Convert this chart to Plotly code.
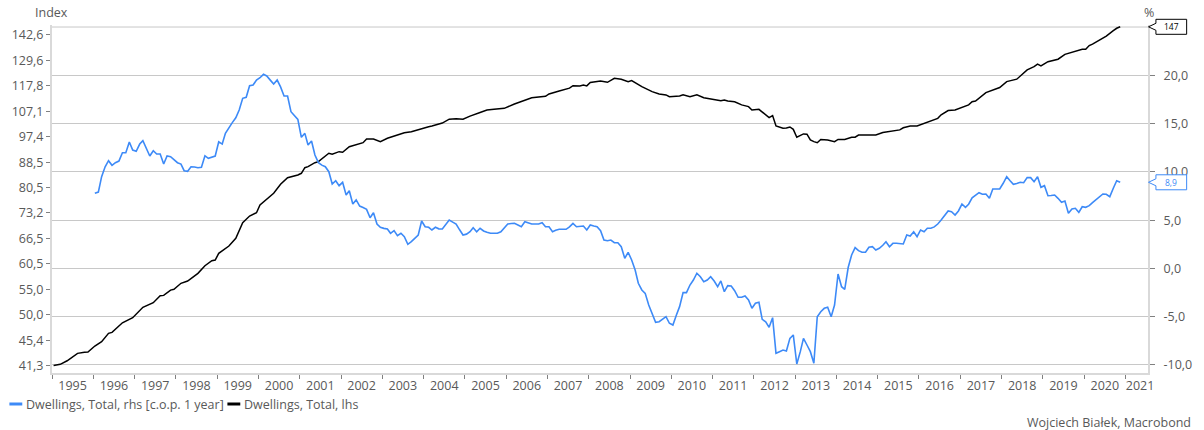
import math
import pandas as pd
import plotly.graph_objects as go

# ---------------- data ----------------
# Dwellings, Total (index, left log axis)
index_dates = [
    "1995-01", "1995-03", "1995-05", "1995-08", "1995-10", "1995-11", "1996-01", "1996-03", "1996-05", "1996-06",
    "1996-09", "1996-12", "1997-03", "1997-06", "1997-08", "1997-09", "1997-11", "1997-12", "1998-02", "1998-04",
    "1998-07", "1998-09", "1998-11", "1998-12", "1999-01", "1999-04", "1999-06", "1999-08", "1999-10", "1999-12",
    "2000-01", "2000-03", "2000-05", "2000-07", "2000-09", "2000-12", "2001-01", "2001-02", "2001-03", "2001-05",
    "2001-06", "2001-09", "2001-10", "2001-12", "2002-01", "2002-03", "2002-05", "2002-07", "2002-08", "2002-10",
    "2002-12", "2003-02", "2003-05", "2003-07", "2003-09", "2003-12", "2004-02", "2004-03", "2004-05", "2004-06",
    "2004-08", "2004-10", "2004-12", "2005-02", "2005-05", "2005-07", "2005-09", "2005-12", "2006-03", "2006-06",
    "2006-08", "2006-12", "2007-01", "2007-04", "2007-07", "2007-08", "2007-10", "2007-11", "2007-12", "2008-01",
    "2008-04", "2008-06", "2008-08", "2008-10", "2008-12", "2009-01", "2009-04", "2009-07", "2009-09", "2009-11",
    "2009-12", "2010-03", "2010-04", "2010-06", "2010-08", "2010-10", "2011-01", "2011-03", "2011-04", "2011-05",
    "2011-07", "2011-09", "2011-11", "2011-12", "2012-02", "2012-04", "2012-05", "2012-06", "2012-07", "2012-09",
    "2012-10", "2012-11", "2012-12", "2013-01", "2013-03", "2013-04", "2013-05", "2013-06", "2013-07", "2013-08",
    "2013-10", "2013-12", "2014-01", "2014-03", "2014-05", "2014-06", "2014-07", "2014-10", "2014-12", "2015-02",
    "2015-05", "2015-07", "2015-08", "2015-10", "2015-12", "2016-02", "2016-04", "2016-06", "2016-07", "2016-09",
    "2016-11", "2017-01", "2017-03", "2017-04", "2017-05", "2017-08", "2017-12", "2018-02", "2018-05", "2018-08",
    "2018-10", "2018-11", "2018-12", "2019-02", "2019-05", "2019-07", "2019-09", "2019-12", "2020-01", "2020-02",
    "2020-03", "2020-06", "2020-07", "2020-09", "2020-10", "2020-11",
]
index_values = [
    41.3, 41.5, 42.05, 43.24, 43.40, 43.45, 44.44, 45.16, 46.60, 46.78,
    48.49, 49.41, 51.38, 52.27, 53.65, 53.73, 54.81, 54.96, 56.22, 56.70,
    58.36, 60.05, 61.19, 61.35, 62.9, 64.65, 66.54, 70.55, 72.34, 73.24,
    75.38, 77.1, 78.77, 81.47, 83.52, 84.37, 84.9, 86.7, 87.04, 88.35,
    88.68, 91.52, 91.18, 92.07, 91.86, 93.8, 94.65, 95.23, 96.56, 96.56,
    95.58, 96.81, 98.0, 98.86, 99.23, 100.5, 101.1, 101.4, 102.1, 102.5,
    104.0, 104.2, 104.0, 105.2, 106.6, 107.6, 107.9, 108.3, 110.1, 111.7,
    112.7, 113.3, 114.3, 115.6, 116.8, 117.9, 117.8, 118.2, 117.8, 119.3,
    120.0, 119.4, 121.2, 120.8, 119.7, 120.2, 117.5, 115.3, 114.3, 113.9,
    113.1, 113.4, 113.9, 113.1, 113.9, 112.7, 112.0, 111.4, 111.7, 111.3,
    111.0, 109.7, 109.0, 107.6, 107.9, 105.9, 104.6, 105.4, 101.4, 100.5,
    100.6, 101.0, 100.1, 97.2, 98.4, 98.3, 96.2, 95.6, 95.2, 96.4,
    96.2, 95.6, 96.4, 96.4, 97.2, 97.2, 98.0, 98.0, 98.0, 98.9,
    99.5, 99.9, 100.7, 101.4, 101.4, 102.4, 103.3, 104.3, 105.7, 107.4,
    107.6, 108.6, 109.7, 111.0, 111.3, 114.9, 117.1, 119.7, 120.8, 125.1,
    126.6, 127.8, 127.0, 129.0, 130.2, 132.6, 133.6, 135.1, 135.1, 137.0,
    137.8, 140.8, 142.0, 144.9, 146.2, 147.0,
]

# Dwellings, Total, rhs [c.o.p. 1 year] (%, right axis), monthly from 1996-01
yoy_start = "1996-01"
yoy_values = [
    7.78, 7.91, 9.50, 10.53, 11.16, 10.68, 10.95, 11.12, 11.98, 11.98, 13.09, 12.26,      # 1996
    12.13, 12.88, 13.23, 12.44, 11.64, 12.19, 11.85, 11.85, 10.81, 11.64, 11.57, 11.26,   # 1997
    10.95, 10.81, 10.12, 10.06, 10.53, 10.5, 10.42, 10.47, 11.67, 11.40, 11.5, 11.64,     # 1998
    13.12, 12.88, 13.99, 14.6, 15.1, 15.6, 16.41, 17.62, 17.72, 18.92, 18.99, 19.51,      # 1999
    19.75, 20.10, 19.93, 19.5, 19.10, 19.51, 18.8, 17.86, 17.86, 16.23, 15.8, 15.44,      # 2000
    13.58, 13.99, 12.78, 13.20, 11.75, 10.95, 10.7, 10.53, 10.02, 8.74, 9.08, 8.57,       # 2001
    8.92, 7.60, 8.05, 6.67, 7.09, 6.46, 6.3, 6.12, 5.25, 5.77, 4.60, 4.26,                # 2002
    4.15, 4.08, 3.64, 3.91, 3.39, 3.64, 3.29, 2.50, 2.77, 3.1, 3.46, 4.91,                # 2003
    4.32, 4.26, 3.98, 4.26, 4.1, 4.08, 4.6, 5.01, 4.8, 4.60, 4.0, 3.46,                   # 2004
    3.55, 3.8, 4.22, 3.80, 4.16, 3.88, 3.75, 3.64, 3.64, 3.64, 3.8, 4.22,                 # 2005
    4.60, 4.65, 4.67, 4.5, 4.32, 4.84, 4.7, 4.60, 4.6, 4.60, 4.74, 4.32,                  # 2006
    4.32, 3.80, 3.95, 4.05, 4.05, 4.05, 4.3, 4.67, 4.32, 4.35, 4.39, 3.98,                # 2007
    4.50, 4.4, 4.32, 3.91, 2.94, 2.87, 2.94, 2.66, 2.66, 2.25, 1.05, 1.67,                # 2008
    0.87, -0.16, -1.54, -2.23, -2.58, -3.79, -4.65, -5.58, -5.52, -5.3, -5.00, -5.68,     # 2009
    -5.86, -4.82, -3.96, -2.51, -2.51, -1.72, -1.20, -0.50, -0.86, -1.37, -1.20, -0.86,   # 2010
    -1.30, -1.89, -1.30, -2.41, -1.79, -1.82, -2.31, -2.99, -2.99, -2.86, -3.27, -4.13,   # 2011
    -3.61, -3.51, -5.27, -5.52, -6.10, -5.10, -8.79, -8.62, -8.45, -8.55, -7.24, -6.89,   # 2012
    -9.90, -8.62, -7.24, -7.93, -8.62, -9.82, -5.00, -4.48, -4.13, -4.02, -5.00, -3.79,   # 2013
    -0.58, -1.89, -2.16, 0.12, 1.39, 2.15, 1.84, 1.67, 1.67, 2.19, 2.25, 1.91,            # 2014
    2.08, 2.4, 2.77, 2.25, 2.60, 2.60, 2.55, 2.53, 3.46, 3.36, 3.80, 3.29,                # 2015
    3.98, 3.80, 4.16, 4.16, 4.3, 4.60, 5.01, 5.5, 5.95, 5.87, 5.53, 5.95,                 # 2016
    6.67, 6.33, 6.65, 7.31, 7.53, 7.84, 7.68, 7.71, 7.26, 8.23, 8.23, 8.23,               # 2017
    8.82, 9.50, 9.1, 8.71, 8.8, 8.92, 8.88, 9.40, 9.40, 8.98, 9.50, 8.40,                 # 2018
    8.57, 7.53, 7.55, 7.60, 7.26, 6.85, 6.98, 5.71, 6.15, 6.23, 5.81, 6.39,               # 2019
    6.33, 6.5, 6.81, 7.1, 7.45, 7.71, 7.68, 7.43, 8.3, 9.08, 8.92,                        # 2020
]

index_ticks = [41.3, 45.4, 50.0, 55.0, 60.5, 66.5, 73.2, 80.5, 88.5, 97.4, 107.1, 117.8, 129.6, 142.6]
pct_ticks = [-10, -5, 0, 5, 10, 15, 20]
years = list(range(1995, 2022))

series_names = ["Dwellings, Total, rhs [c.o.p. 1 year]", "Dwellings, Total, lhs"]
credit = "Wojciech Białek, Macrobond"

# ---------------- styling ----------------
W, H = 1204, 430
PL, PR, PT, PB = 51, 1157, 25, 373          # plot area in px
BLUE = "#3d8af7"
BLACK = "#000000"
GRID = "#c8c8c8"
AXL = "#d9d9d9"
TXT = "#595959"
FONT = "Open Sans"
FS = 12.5

Y1 = [math.log10(40.17), math.log10(148.0)]
Y2 = [-10.83, 25.21]


def comma(v):
    return f"{v:.1f}".replace(".", ",")


def px_x(px):
    return (px - PL) / (PR - PL)


def px_y(py):
    return (PB - py) / (PB - PT)


idx_x = [pd.Timestamp(d + "-15") for d in index_dates]
yoy_x = list(pd.date_range(yoy_start + "-01", periods=len(yoy_values), freq="MS") + pd.Timedelta(days=14))

fig = go.Figure()
fig.add_trace(go.Scatter(x=yoy_x, y=yoy_values, yaxis="y2", mode="lines",
                         line=dict(color=BLUE, width=1.6), name=series_names[0], showlegend=False))
fig.add_trace(go.Scatter(x=idx_x, y=index_values, yaxis="y", mode="lines",
                         line=dict(color=BLACK, width=1.5), name=series_names[1], showlegend=False))

tickvals_x = [f"{y}-07-02" for y in years[:-1]] + ["2021-05-10"]

fig.update_layout(
    width=W, height=H,
    margin=dict(l=PL, r=W - PR, t=PT, b=H - PB, pad=0),
    paper_bgcolor="white", plot_bgcolor="white",
    font=dict(family=FONT, size=FS, color=TXT),
    xaxis=dict(
        type="date", range=["1995-01-01", "2021-07-19"],
        tickmode="array", tickvals=tickvals_x, ticktext=[str(y) for y in years],
        ticks="", showgrid=False, zeroline=False,
        showline=True, linecolor=AXL, linewidth=2,
        tickfont=dict(family=FONT, size=FS, color=TXT),
        minor=dict(ticks="outside", ticklen=4, tickwidth=1, tickcolor="#808080",
                   dtick="M12", tick0="1995-01-01", showgrid=False),
    ),
    yaxis=dict(
        type="log", range=Y1,
        tickmode="array", tickvals=index_ticks, ticktext=[comma(v) for v in index_ticks],
        ticks="outside", ticklen=4, tickcolor="#808080",
        showgrid=False, zeroline=False,
        showline=True, linecolor=AXL, linewidth=2,
        tickfont=dict(family=FONT, size=FS, color=TXT),
    ),
    yaxis2=dict(
        overlaying="y", side="right", range=Y2,
        tickmode="array", tickvals=pct_ticks, ticktext=[comma(v) for v in pct_ticks],
        ticks="outside", ticklen=5, tickcolor="#808080", ticklabelstandoff=6,
        showgrid=True, gridcolor=GRID, gridwidth=1, zeroline=False,
        showline=True, linecolor=AXL, linewidth=2,
        tickfont=dict(family=FONT, size=FS, color=TXT),
    ),
)

shapes = []
# top gridline (25 on right axis)
shapes.append(dict(type="line", xref="paper", yref="y2", x0=0, x1=1, y0=25, y1=25,
                   line=dict(color=GRID, width=1), layer="below"))

# value callouts
last_idx = index_values[-1]
last_yoy = yoy_values[-1]
cy_black = (math.log10(last_idx) - Y1[0]) / (Y1[1] - Y1[0])
cy_blue = (last_yoy - Y2[0]) / (Y2[1] - Y2[0])


def callout(yc, color):
    tx, bx0, bx1 = px_x(1157.5), px_x(1165), px_x(1196)
    h1, h2 = 3.5 / (PB - PT), 7.5 / (PB - PT)
    path = (f"M {tx},{yc} L {bx0},{yc + h1} L {bx0},{yc + h2} L {bx1},{yc + h2} "
            f"L {bx1},{yc - h2} L {bx0},{yc - h2} L {bx0},{yc - h1} Z")
    return dict(type="path", xref="paper", yref="paper", path=path,
                fillcolor="white", line=dict(color=color, width=1), layer="above")


shapes.append(callout(cy_black, BLACK))
shapes.append(callout(cy_blue, BLUE))

# legend line samples
for (x0, x1, col) in [(8, 21, BLUE), (228, 241, BLACK)]:
    shapes.append(dict(type="line", xref="paper", yref="paper",
                       x0=px_x(x0), x1=px_x(x1), y0=px_y(404), y1=px_y(404),
                       line=dict(color=col, width=3)))

annotations = [
    dict(text=f"{last_idx:.0f}", xref="paper", yref="paper", x=px_x(1180.5), y=cy_black,
         showarrow=False, font=dict(family=FONT, size=8.5, color=BLACK), xanchor="center", yanchor="middle"),
    dict(text=comma(last_yoy), xref="paper", yref="paper", x=px_x(1180.5), y=cy_blue,
         showarrow=False, font=dict(family=FONT, size=8.5, color=BLUE), xanchor="center", yanchor="middle"),
    dict(text="Index", xref="paper", yref="paper", x=px_x(50), y=px_y(12.3),
         showarrow=False, xanchor="center", yanchor="middle", font=dict(family=FONT, size=FS, color=TXT)),
    dict(text="%", xref="paper", yref="paper", x=px_x(1158), y=px_y(12.3),
         showarrow=False, xanchor="center", yanchor="middle", font=dict(family=FONT, size=FS, color=TXT)),
    dict(text=series_names[0], xref="paper", yref="paper", x=px_x(23), y=px_y(404),
         showarrow=False, xanchor="left", yanchor="middle", font=dict(family=FONT, size=FS, color=TXT)),
    dict(text=series_names[1], xref="paper", yref="paper", x=px_x(243), y=px_y(404),
         showarrow=False, xanchor="left", yanchor="middle", font=dict(family=FONT, size=FS, color=TXT)),
    dict(text=credit, xref="paper", yref="paper", x=px_x(1033), y=px_y(422.5),
         showarrow=False, xanchor="left", yanchor="middle", font=dict(family=FONT, size=FS, color=TXT)),
]

fig.update_layout(shapes=shapes, annotations=annotations)
fig.write_html("out.html",
               config={"displayModeBar": False, "staticPlot": True},
               post_script="document.body.style.margin='0';document.body.style.padding='0';"
                           "document.documentElement.style.overflow='hidden';")
